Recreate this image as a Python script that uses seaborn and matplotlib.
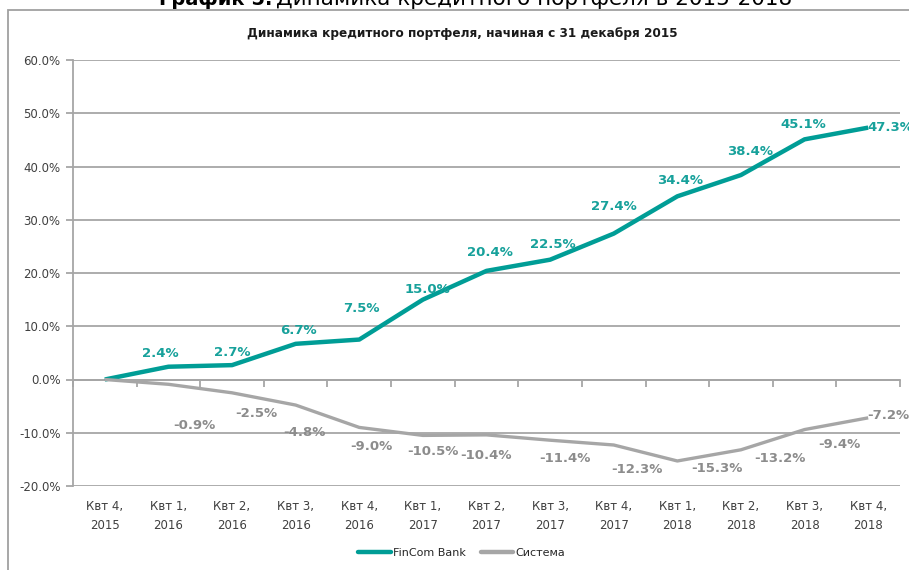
import matplotlib
matplotlib.use("Agg")
import matplotlib.pyplot as plt
import seaborn as sns
import pandas as pd
from matplotlib.patches import Rectangle
from matplotlib.ticker import FuncFormatter, FixedLocator

categories = ["Квт 4,\n2015", "Квт 1,\n2016", "Квт 2,\n2016", "Квт 3,\n2016", "Квт 4,\n2016",
              "Квт 1,\n2017", "Квт 2,\n2017", "Квт 3,\n2017", "Квт 4,\n2017",
              "Квт 1,\n2018", "Квт 2,\n2018", "Квт 3,\n2018", "Квт 4,\n2018"]
fincom = [0.0, 2.4, 2.7, 6.7, 7.5, 15.0, 20.4, 22.5, 27.4, 34.4, 38.4, 45.1, 47.3]
system = [0.0, -0.9, -2.5, -4.8, -9.0, -10.5, -10.4, -11.4, -12.3, -15.3, -13.2, -9.4, -7.2]
series_names = ["FinCom Bank", "Система"]
y_ticks = [-20, -10, 0, 10, 20, 30, 40, 50, 60]

# label placement (pixel offsets from point), styling only
fin_offsets = [None, (-8, 13), (0, 13), (3, 13), (2, 31), (5, 10), (3, 18), (3, 15),
               (0, 27), (3, 16), (9, 24), (-1, 15), "right"]
sys_offsets = [None, (26, -41), (24, -21), (9, -27), (12, -19), (10, -16), (-1, -21),
               (15, -18), (23, -25), (40, -8), (39, -9), (35, -15), "right"]

TEAL = "#009d96"
TEAL_TXT = "#17a19b"
GRAY = "#a6a6a6"
GRAY_TXT = "#8c8c8c"
GRID = "#a6a6a6"

df = pd.DataFrame({
    "cat": categories * 2,
    "val": fincom + system,
    "series": [series_names[0]] * len(categories) + [series_names[1]] * len(categories),
})

sns.set_theme(style="white")
plt.rcParams["font.family"] = ["DejaVu Sans"]

W, H = 909, 570
fig = plt.figure(figsize=(W / 100, H / 100), dpi=100)
ax = fig.add_axes([73 / W, (H - 486) / H, (900 - 73) / W, (486 - 60) / H])

sns.lineplot(data=df, x="cat", y="val", hue="series", sort=False,
             palette={series_names[0]: TEAL, series_names[1]: GRAY},
             ax=ax, legend=True)
for ln, lw in zip(ax.lines, [3.2, 2.4]):
    ln.set_linewidth(lw)
    ln.set_solid_capstyle("butt")

ax.set_xlim(-0.5, len(categories) - 0.5)
ax.set_ylim(-20, 60)
ax.yaxis.set_major_locator(FixedLocator(y_ticks))
ax.yaxis.set_major_formatter(FuncFormatter(lambda v, p: f"{v:.1f}%"))
ax.grid(axis="y", color=GRID, linewidth=1.3)
ax.grid(axis="x", visible=False)
ax.set_xlabel("")
ax.set_ylabel("")
for s in ["top", "right", "bottom"]:
    ax.spines[s].set_visible(False)
ax.spines["left"].set_color(GRID)
ax.spines["left"].set_linewidth(1.3)
ax.tick_params(axis="y", which="major", left=True, length=5, width=1.3, color=GRID,
               labelsize=8.5, labelcolor="#404040", pad=4)
ax.tick_params(axis="x", which="major", bottom=False, labelsize=8.5, labelcolor="#404040", pad=4)
for t in ax.get_xticklabels():
    t.set_linespacing(1.6)

# category boundary ticks on the zero line
sec = ax.secondary_xaxis((0 - (-20)) / 80)
sec.set_xticks([i - 0.5 for i in range(len(categories) + 1)])
sec.set_xticklabels([])
sec.tick_params(axis="x", direction="out", length=5, width=1.3, color=GRID)
sec.spines["bottom"].set_color(GRID)
sec.spines["bottom"].set_linewidth(1.3)

# data labels
for i, (v, off) in enumerate(zip(fincom, fin_offsets)):
    if off is None:
        continue
    if off == "right":
        ax.annotate(f"{v:.1f}%", (i, v), xytext=(-1, 0), textcoords="offset pixels",
                    ha="left", va="center", color=TEAL_TXT, fontsize=9.5, fontweight="bold",
                    annotation_clip=False)
    else:
        ax.annotate(f"{v:.1f}%", (i, v), xytext=off, textcoords="offset pixels",
                    ha="center", va="center", color=TEAL_TXT, fontsize=9.5, fontweight="bold")
for i, (v, off) in enumerate(zip(system, sys_offsets)):
    if off is None:
        continue
    if off == "right":
        ax.annotate(f"{v:.1f}%", (i, v), xytext=(-1, 2), textcoords="offset pixels",
                    ha="left", va="center", color=GRAY_TXT, fontsize=9.5, fontweight="bold",
                    annotation_clip=False)
    else:
        ax.annotate(f"{v:.1f}%", (i, v), xytext=off, textcoords="offset pixels",
                    ha="center", va="center", color=GRAY_TXT, fontsize=9.5, fontweight="bold")

# legend
leg = ax.legend(loc="center", bbox_to_anchor=(462 / W, 1 - 553 / H), bbox_transform=fig.transFigure,
                ncol=2, frameon=False, fontsize=8, handlelength=2.9, handletextpad=0.25,
                columnspacing=1.3)
for h in leg.legend_handles:
    h.set_linewidth(3.2)
for t in leg.get_texts():
    t.set_color("#262626")

# chart border
fig.patches.append(Rectangle((8 / W, -0.1), 2.0, 1 - 10 / H + 0.1, transform=fig.transFigure,
                             fill=False, edgecolor="#a0a0a0", linewidth=1.3))

# chart title
fig.text(462 / W, 1 - 33 / H, "Динамика кредитного портфеля, начиная с 31 декабря 2015",
         ha="center", va="center", fontsize=8.7, fontweight="bold", color="#1a1a1a",
         family=["Liberation Sans Narrow", "DejaVu Sans"])

# cut-off heading above the chart
fig.text(272 / W, 1 - 5 / H, "График 5.", ha="right", va="baseline", fontsize=14,
         fontweight="bold", color="#000000", family=["Liberation Sans Narrow", "DejaVu Sans"])
fig.text(276 / W, 1 - 5 / H, "Динамика кредитного портфеля в 2015-2018", ha="left", va="baseline",
         fontsize=15.5, color="#000000", family=["Liberation Sans Narrow", "DejaVu Sans"])

fig.savefig("out.png", dpi=100)
